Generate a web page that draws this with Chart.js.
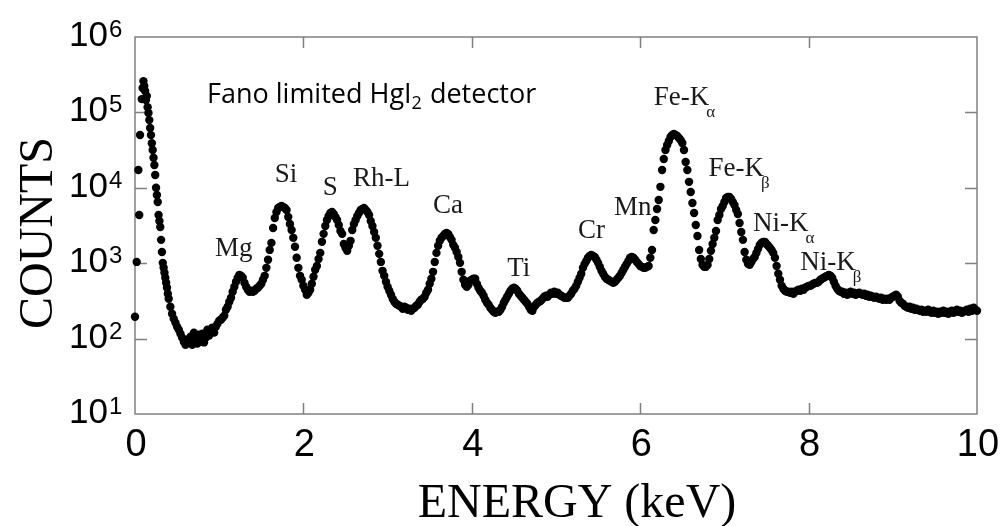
<!DOCTYPE html>
<html lang="en">
<head>
  <meta charset="UTF-8" />
  <title>Fano limited HgI2 detector spectrum</title>
  <script src="https://cdn.jsdelivr.net/npm/chart.js"></script>
  <style>
    html, body { margin: 0; padding: 0; background: #fff; }
    #spectrum { display: block; }
  </style>
</head>
<body>
  <canvas id="spectrum" width="1000" height="526"></canvas>

  <script>
    // Low energy noise peak (finer channels where it drops fast)
    const spikeEnergies = [
      0.00, 0.02, 0.04, 0.05, 0.06,
      0.08, 0.09, 0.10, 0.11, 0.12, 0.13, 0.14, 0.15, 0.16, 0.17, 0.18,
      0.19, 0.20, 0.21, 0.22, 0.23, 0.24, 0.25, 0.26, 0.27, 0.28, 0.29,
      0.30, 0.31, 0.32, 0.33, 0.34, 0.35, 0.36, 0.37, 0.38, 0.39, 0.40
    ];
    const spikeCounts = [
      195, 1040, 17200, 4360, 50100,
      150000, 210000, 260000, 224000, 192000, 146000, 165000, 117000, 98000, 79000, 62000,
      50000, 39000, 31700, 25000, 20100, 14800, 10000, 8020, 6490, 4360, 3630,
      3020, 2040, 1410, 1010, 868, 745, 640, 549, 472, 393, 337
    ];

    // Main spectrum, 0.02 keV channels
    const energies = [
      0.42,0.44,0.46,0.48,0.50,0.52,0.54,0.56,0.58,0.60,
      0.62,0.64,0.66,0.68,0.70,0.72,0.74,0.76,0.78,0.80,
      0.82,0.84,0.86,0.88,0.90,0.92,0.94,0.96,0.98,1.00,
      1.02,1.04,1.06,1.08,1.10,1.12,1.14,1.16,1.18,1.20,
      1.22,1.24,1.26,1.28,1.30,1.32,1.34,1.36,1.38,1.40,
      1.42,1.44,1.46,1.48,1.50,1.52,1.54,1.56,1.58,1.60,
      1.62,1.64,1.66,1.68,1.70,1.72,1.74,1.76,1.78,1.80,
      1.82,1.84,1.86,1.88,1.90,1.92,1.94,1.96,1.98,2.00,
      2.02,2.04,2.06,2.08,2.10,2.12,2.14,2.16,2.18,2.20,
      2.22,2.24,2.26,2.28,2.30,2.32,2.34,2.36,2.38,2.40,
      2.42,2.44,2.46,2.48,2.50,2.52,2.54,2.56,2.58,2.60,
      2.62,2.64,2.66,2.68,2.70,2.72,2.74,2.76,2.78,2.80,
      2.82,2.84,2.86,2.88,2.90,2.92,2.94,2.96,2.98,3.00,
      3.02,3.04,3.06,3.08,3.10,3.12,3.14,3.16,3.18,3.20,
      3.22,3.24,3.26,3.28,3.30,3.32,3.34,3.36,3.38,3.40,
      3.42,3.44,3.46,3.48,3.50,3.52,3.54,3.56,3.58,3.60,
      3.62,3.64,3.66,3.68,3.70,3.72,3.74,3.76,3.78,3.80,
      3.82,3.84,3.86,3.88,3.90,3.92,3.94,3.96,3.98,4.00,
      4.02,4.04,4.06,4.08,4.10,4.12,4.14,4.16,4.18,4.20,
      4.22,4.24,4.26,4.28,4.30,4.32,4.34,4.36,4.38,4.40,
      4.42,4.44,4.46,4.48,4.50,4.52,4.54,4.56,4.58,4.60,
      4.62,4.64,4.66,4.68,4.70,4.72,4.74,4.76,4.78,4.80,
      4.82,4.84,4.86,4.88,4.90,4.92,4.94,4.96,4.98,5.00,
      5.02,5.04,5.06,5.08,5.10,5.12,5.14,5.16,5.18,5.20,
      5.22,5.24,5.26,5.28,5.30,5.32,5.34,5.36,5.38,5.40,
      5.42,5.44,5.46,5.48,5.50,5.52,5.54,5.56,5.58,5.60,
      5.62,5.64,5.66,5.68,5.70,5.72,5.74,5.76,5.78,5.80,
      5.82,5.84,5.86,5.88,5.90,5.92,5.94,5.96,5.98,6.00,
      6.02,6.04,6.06,6.08,6.10,6.12,6.14,6.16,6.18,6.20,
      6.22,6.24,6.26,6.28,6.30,6.32,6.34,6.36,6.38,6.40,
      6.42,6.44,6.46,6.48,6.50,6.52,6.54,6.56,6.58,6.60,
      6.62,6.64,6.66,6.68,6.70,6.72,6.74,6.76,6.78,6.80,
      6.82,6.84,6.86,6.88,6.90,6.92,6.94,6.96,6.98,7.00,
      7.02,7.04,7.06,7.08,7.10,7.12,7.14,7.16,7.18,7.20,
      7.22,7.24,7.26,7.28,7.30,7.32,7.34,7.36,7.38,7.40,
      7.42,7.44,7.46,7.48,7.50,7.52,7.54,7.56,7.58,7.60,
      7.62,7.64,7.66,7.68,7.70,7.72,7.74,7.76,7.78,7.80,
      7.82,7.84,7.86,7.88,7.90,7.92,7.94,7.96,7.98,8.00,
      8.02,8.04,8.06,8.08,8.10,8.12,8.14,8.16,8.18,8.20,
      8.22,8.24,8.26,8.28,8.30,8.32,8.34,8.36,8.38,8.40,
      8.42,8.44,8.46,8.48,8.50,8.52,8.54,8.56,8.58,8.60,
      8.62,8.64,8.66,8.68,8.70,8.72,8.74,8.76,8.78,8.80,
      8.82,8.84,8.86,8.88,8.90,8.92,8.94,8.96,8.98,9.00,
      9.02,9.04,9.06,9.08,9.10,9.12,9.14,9.16,9.18,9.20,
      9.22,9.24,9.26,9.28,9.30,9.32,9.34,9.36,9.38,9.40,
      9.42,9.44,9.46,9.48,9.50,9.52,9.54,9.56,9.58,9.60,
      9.62,9.64,9.66,9.68,9.70,9.72,9.74,9.76,9.78,9.80,
      9.82,9.84,9.86,9.88,9.90,9.92,9.94,9.96,9.98,10.00
    ];
    const counts = [
      265,214,184,163,144,131,116,103,91,83,
      97,89,106,83,120,97,86,113,91,116,
      89,103,131,110,124,140,120,144,158,173,
      178,189,201,241,265,308,348,418,486,566,
      640,701,680,640,549,486,444,418,431,418,
      431,458,472,501,533,602,680,868,1110,1500,
      1860,2930,3980,4780,5400,5560,5740,5560,5400,5080,
      4100,3310,2760,2170,1650,1180,868,680,602,501,
      444,381,405,444,533,660,817,920,1140,1370,
      1920,2450,3120,3740,4230,4630,4780,4490,4100,3740,
      3210,2680,2450,1800,1600,1460,1700,1980,2760,3310,
      3740,4230,4630,5080,5240,5400,5080,4780,4360,3630,
      3120,2600,2170,1700,1330,1040,792,680,566,486,
      431,381,337,308,290,281,273,265,249,265,
      257,241,249,234,249,257,273,281,308,327,
      337,359,405,444,533,621,768,1040,1370,1700,
      1980,2170,2300,2450,2520,2450,2230,2040,1750,1600,
      1410,1210,1010,768,602,517,486,517,584,602,
      621,621,533,472,431,405,370,327,299,281,
      257,241,227,220,227,227,241,265,299,327,
      359,393,431,458,472,458,431,393,370,348,
      327,308,290,265,241,234,265,281,299,308,
      317,337,359,370,359,381,405,393,418,393,
      405,381,370,359,348,348,348,370,393,431,
      458,501,566,640,723,868,980,1070,1180,1250,
      1290,1250,1210,1110,1010,895,792,723,660,621,
      602,584,566,549,566,602,640,680,745,817,
      895,980,1070,1180,1210,1180,1110,1040,980,920,
      895,868,868,895,920,1180,1500,2760,3740,5240,
      6890,10300,17200,24100,31700,37000,41700,47100,50100,51600,
      50100,48600,45700,43000,39200,31700,22000,17200,12000,8800,
      6290,4630,3210,2300,1500,1140,950,895,895,950,
      1140,1460,1800,2170,2680,3740,4360,5240,5740,6490,
      7330,7560,7560,7110,6490,5910,5080,4490,3420,2600,
      2040,1410,1110,980,950,1040,1140,1210,1370,1550,
      1750,1860,1920,1920,1800,1700,1600,1500,1370,1180,
      920,723,602,501,458,431,418,418,405,418,
      393,418,431,444,431,458,444,472,486,501,
      501,517,533,549,549,566,602,621,640,660,
      680,701,680,640,566,501,458,431,418,418,
      393,405,381,405,418,393,405,381,393,405,
      393,381,393,370,381,359,370,359,348,359,
      348,337,348,327,337,327,337,327,348,359,
      370,381,359,317,299,290,273,265,257,265,
      249,257,241,249,241,234,241,227,234,227,
      241,227,220,234,220,227,214,227,220,234,
      220,227,214,227,234,220,227,241,227,234,
      220,227,234,241,227,249,234,257,241,234
    ];

    // axes
    const xTicks = [0, 2, 4, 6, 8, 10];
    const yExponents = [1, 2, 3, 4, 5, 6];

    // peak labels: name, subscript, anchor (energy, counts) of the text's left baseline
    const peakNames = ['Mg', 'Si', 'S', 'Rh-L', 'Ca', 'Ti', 'Cr', 'Mn', 'Fe-K', 'Fe-K', 'Ni-K', 'Ni-K'];
    const peakSubs  = ['', '', '', '', '', '', '', '', 'α', 'β', 'α', 'β'];
    const peakAtE   = [0.95, 1.66, 2.23, 2.59, 3.54, 4.42, 5.26, 5.69, 6.16, 6.81, 7.34, 7.90];
    const peakAtC   = [1250, 11900, 8020, 10600, 4630, 680, 2170, 4360, 125000, 14300, 2680, 817];

    const points = spikeEnergies.map((e, i) => ({ x: e, y: spikeCounts[i] }))
      .concat(energies.map((e, i) => ({ x: e, y: counts[i] })));

    const frame = {
      id: 'frame',
      beforeDatasetsDraw(chart) {
        const { ctx, chartArea: a, scales: { x, y } } = chart;
        ctx.save();
        ctx.strokeStyle = '#808080';
        ctx.lineWidth = 1.5;
        ctx.strokeRect(a.left, a.top, a.right - a.left, a.bottom - a.top);
        ctx.beginPath();
        xTicks.slice(1, -1).forEach(v => {
          const px = Math.round(x.getPixelForValue(v)) + 0.5;
          ctx.moveTo(px, a.bottom); ctx.lineTo(px, a.bottom - 11);
          ctx.moveTo(px, a.top); ctx.lineTo(px, a.top + 11);
        });
        yExponents.slice(1, -1).forEach(e => {
          const py = Math.round(y.getPixelForValue(Math.pow(10, e))) + 0.5;
          ctx.moveTo(a.left, py); ctx.lineTo(a.left + 12, py);
          ctx.moveTo(a.right, py); ctx.lineTo(a.right - 12, py);
        });
        ctx.stroke();
        ctx.restore();
      },
      afterDraw(chart) {
        const { ctx, chartArea: a, scales: { x, y } } = chart;
        ctx.save();
        ctx.fillStyle = '#000';

        // y tick labels 10^n
        yExponents.forEach(e => {
          const py = y.getPixelForValue(Math.pow(10, e));
          ctx.font = '35px "Liberation Sans", Arial, sans-serif';
          ctx.textAlign = 'right';
          ctx.textBaseline = 'alphabetic';
          ctx.fillText('10', a.left - 27, py + 9);
          ctx.font = '24px "Liberation Sans", Arial, sans-serif';
          ctx.textAlign = 'left';
          ctx.fillText(String(e), a.left - 26, py);
        });

        // x tick labels
        ctx.font = '38px "Liberation Sans", Arial, sans-serif';
        ctx.textAlign = 'center';
        xTicks.forEach(v => ctx.fillText(String(v), x.getPixelForValue(v) + 1, 456));

        // axis titles
        ctx.font = '48px "Liberation Serif", "Times New Roman", serif';
        ctx.fillText('ENERGY (keV)', 577, 517);
        ctx.save();
        ctx.translate(52, 233);
        ctx.rotate(-Math.PI / 2);
        ctx.fillText('COUNTS', 0, 0);
        ctx.restore();

        // detector note
        ctx.textAlign = 'left';
        const nx = x.getPixelForValue(0.855), ny = y.getPixelForValue(133000);
        ctx.font = '27px "Open Sans", sans-serif';
        ctx.fillText('Fano limited HgI', nx, ny);
        let w = ctx.measureText('Fano limited HgI').width;
        ctx.font = '18px "Open Sans", sans-serif';
        ctx.fillText('2', nx + w, ny + 6);
        w += ctx.measureText('2').width + 1;
        ctx.font = '27px "Open Sans", sans-serif';
        ctx.fillText(' detector', nx + w, ny);

        // peak labels
        ctx.fillStyle = '#1a1a1a';
        peakNames.forEach((name, i) => {
          const px = x.getPixelForValue(peakAtE[i]);
          const py = y.getPixelForValue(peakAtC[i]);
          ctx.font = '27px "Liberation Serif", "Times New Roman", serif';
          ctx.fillText(name, px, py);
          if (peakSubs[i]) {
            const tw = ctx.measureText(name).width;
            ctx.font = '17px "Liberation Serif", "Times New Roman", serif';
            ctx.fillText(peakSubs[i], px + tw - 3, py + 12);
          }
        });
        ctx.restore();
      }
    };

    new Chart(document.getElementById('spectrum'), {
      type: 'scatter',
      data: {
        datasets: [{
          data: points,
          showLine: false,
          pointRadius: 4.2,
          pointHoverRadius: 4.2,
          pointBorderWidth: 0,
          backgroundColor: '#000',
          borderColor: '#000',
          clip: false
        }]
      },
      options: {
        responsive: false,
        animation: false,
        devicePixelRatio: 1,
        layout: { padding: { left: 135, top: 37, right: 23, bottom: 112 } },
        plugins: { legend: { display: false }, tooltip: { enabled: false } },
        scales: {
          x: { type: 'linear', min: 0, max: 10, display: false },
          y: { type: 'logarithmic', min: 10, max: 1000000, display: false }
        }
      },
      plugins: [frame]
    });
  </script>
</body>
</html>
